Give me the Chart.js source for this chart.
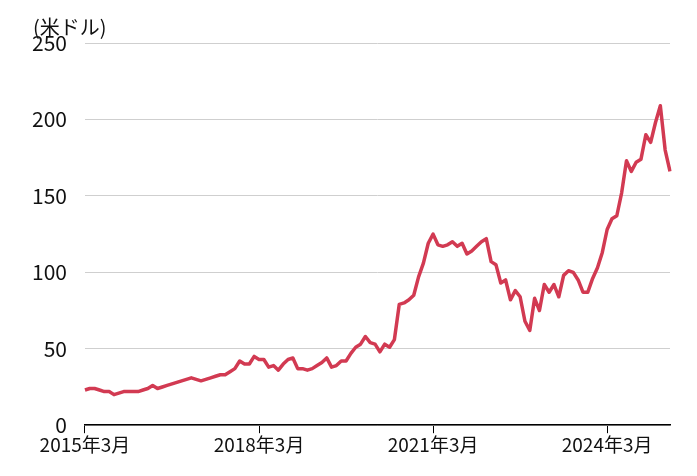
<!DOCTYPE html><html><head><meta charset="utf-8">
<script src="https://cdn.jsdelivr.net/npm/chart.js@4"></script>
<style>html,body{margin:0;background:#fff}#w{width:697px;height:476px}</style></head><body><div id="w"><canvas id="c"></canvas></div>
<script>
const startYear=2015,startMonth=3;
const values=[23,24,24,23,22,22,20,21,22,22,22,22,23,24,26,24,25,26,27,28,29,30,31,30,29,30,31,32,33,33,35,37,42,40,40,45,
43,43,38,39,36,40,43,44,37,37,36,37,39,41,44,38,39,42,42,47,51,53,58,54,53,48,53,51,56,79,80,82,85,97,106,119,125,118,117,118,
120,117,119,112,114,117,120,122,107,105,93,95,82,88,84,68,62,83,75,92,87,92,84,98,101,100,95,87,87,96,103,113,128,135,137,152,173,166,172,174,
190,185,198,209,180,166];
const tickLabelsShown=["2015年3月","2018年3月","2021年3月","2024年3月"];
const yTicks=[0,50,100,150,200,250];
const unitLabel='(米ドル)';
const labels=values.map((_,i)=>{const m=startMonth-1+i;return (startYear+Math.floor(m/12))+"年"+(m%12+1)+"月";});
const F="'Noto Sans CJK JP','Noto Sans',sans-serif";
const unitPlugin={id:'unit',afterDraw(c){const x=c.ctx;x.save();x.font="20px "+F;x.fillStyle='#111';x.textBaseline='middle';x.fillText(unitLabel,33,27);x.restore();}};
new Chart(document.getElementById('c'),{type:'line',
data:{labels,datasets:[{data:values,borderColor:'#d23a52',borderWidth:3.5,pointRadius:0,tension:0,borderJoinStyle:'round'}]},
plugins:[unitPlugin],
options:{responsive:true,maintainAspectRatio:false,animation:false,
layout:{padding:{left:14,right:27,top:43,bottom:20}},
plugins:{legend:{display:false},tooltip:{enabled:false},title:{display:false}},
scales:{
x:{offset:false,grid:{drawOnChartArea:false,drawTicks:true,tickLength:8,color:ctx=>tickLabelsShown.includes(labels[ctx.index])?'#000':'rgba(0,0,0,0)'},
border:{color:'#000',width:1.5},
ticks:{autoSkip:false,maxRotation:0,font:{family:F,size:19},color:'#111',padding:0,
callback:(v,i)=>tickLabelsShown.includes(labels[i])?labels[i]:''}},
y:{min:0,max:250,afterBuildTicks:s=>{s.ticks=yTicks.map(v=>({value:v}));},
grid:{color:'#cfcfcf',drawTicks:false},border:{display:false},
ticks:{font:{family:F,size:21},color:'#111',padding:18}}}}});
</script></body></html>
